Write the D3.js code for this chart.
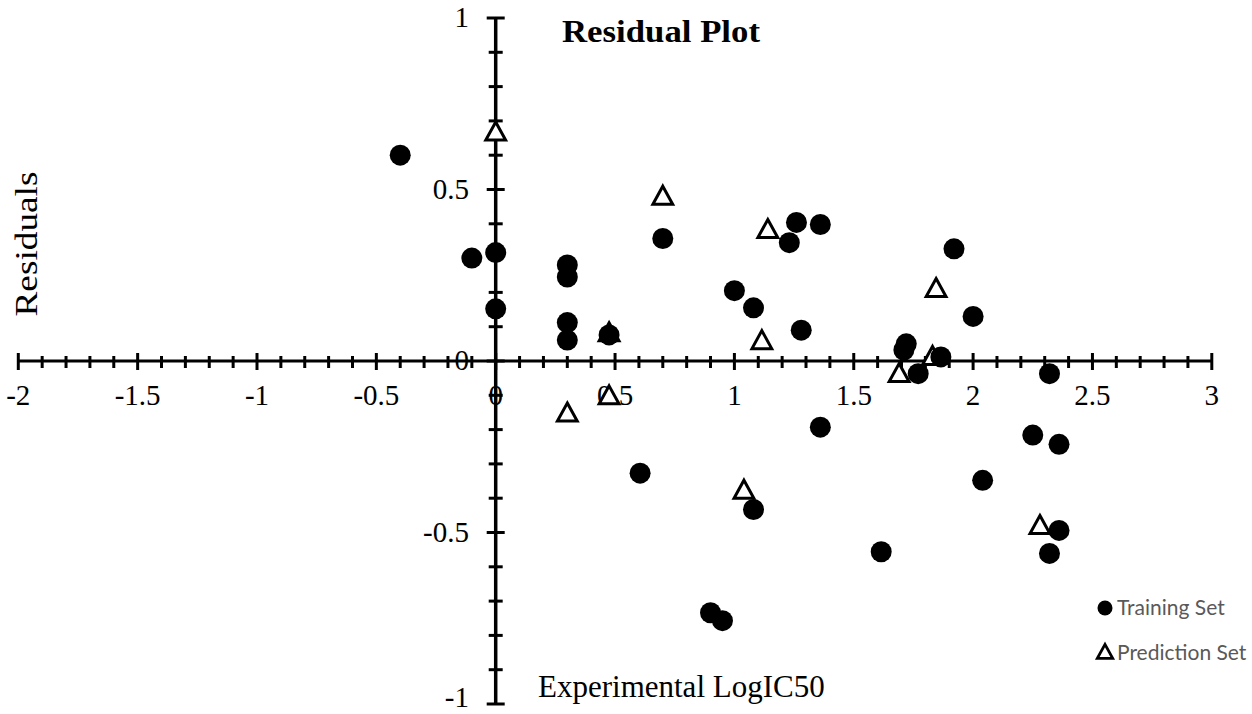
<!DOCTYPE html>
<html>
<head>
<meta charset="utf-8">
<script src="https://cdn.jsdelivr.net/npm/d3@7"></script>
<style>
  html, body { margin: 0; padding: 0; background: #fff; }
  svg { display: block; }
</style>
</head>
<body>
<svg id="chart" width="1252" height="714"></svg>
<script>
// ---- Data ----
const trainingX = [-0.40, -0.10, 0.00, 0.00, 0.30, 0.30, 0.30, 0.30, 0.475, 0.70,
                   1.00, 1.08, 1.23, 1.26, 1.36, 1.28, 1.36, 0.605, 1.08, 0.90,
                   0.95, 1.615, 1.72, 1.71, 1.77, 1.865, 1.92, 2.00, 2.04, 2.32,
                   2.25, 2.36, 2.36, 2.32];
const trainingY = [0.60, 0.30, 0.316, 0.152, 0.28, 0.245, 0.112, 0.061, 0.076, 0.357,
                   0.205, 0.155, 0.345, 0.404, 0.398, 0.090, -0.193, -0.327, -0.433, -0.734,
                   -0.757, -0.556, 0.050, 0.032, -0.037, 0.012, 0.327, 0.130, -0.348, -0.037,
                   -0.216, -0.243, -0.494, -0.561];
const predictionX = [0.00, 0.70, 1.14, 1.115, 0.475, 0.30, 0.475, 1.04, 1.69, 1.845, 1.83, 2.28];
const predictionY = [0.664, 0.477, 0.380, 0.056, 0.079, -0.155, -0.105, -0.380, -0.040, 0.208, 0.010, -0.483];

const xMajorTicks = [-2, -1.5, -1, -0.5, 0, 0.5, 1, 1.5, 2, 2.5, 3];
const xTickLabels = ["-2", "-1.5", "-1", "-0.5", "0", "0.5", "1", "1.5", "2", "2.5", "3"];
const yMajorTicks = [-1, -0.5, 0, 0.5, 1];
const yTickLabels = ["-1", "-0.5", "0", "0.5", "1"];
const legendLabels = ["Training Set", "Prediction Set"];

// ---- Scales ----
const svg = d3.select("#chart");
const x = d3.scaleLinear().domain([-2, 3]).range([18.3, 1211.8]);
const y = d3.scaleLinear().domain([-1, 1]).range([704, 18]);

const x0 = x(0), y0 = y(0);
const serif = "'Liberation Serif', 'Times New Roman', serif";

// ---- X axis (crossing at y=0) ----
const xMinor = d3.range(-20, 31).map(d => d / 10).filter(d => !xMajorTicks.some(m => Math.abs(m - d) < 1e-9));
const gx = svg.append("g");
gx.append("line").attr("x1", x(-2)).attr("x2", x(3)).attr("y1", y0).attr("y2", y0)
  .attr("stroke", "#000").attr("stroke-width", 3);
gx.selectAll("line.maj").data(xMajorTicks).join("line").attr("class", "maj")
  .attr("x1", d => x(d)).attr("x2", d => x(d)).attr("y1", y0 - 8).attr("y2", y0 + 9)
  .attr("stroke", "#000").attr("stroke-width", 3);
gx.selectAll("line.min").data(xMinor).join("line").attr("class", "min")
  .attr("x1", d => x(d)).attr("x2", d => x(d)).attr("y1", y0 - 5).attr("y2", y0 + 7)
  .attr("stroke", "#000").attr("stroke-width", 3);
gx.selectAll("text").data(xMajorTicks).join("text")
  .attr("x", d => x(d)).attr("y", 405)
  .attr("text-anchor", "middle")
  .attr("font-family", serif).attr("font-size", 29)
  .text((d, i) => xTickLabels[i]);

// ---- Y axis (crossing at x=0) ----
const yMinor = d3.range(-10, 11).map(d => d / 10).filter(d => !yMajorTicks.some(m => Math.abs(m - d) < 1e-9));
const gy = svg.append("g");
gy.append("line").attr("x1", x0).attr("x2", x0).attr("y1", y(-1)).attr("y2", y(1))
  .attr("stroke", "#000").attr("stroke-width", 3.5);
gy.selectAll("line.maj").data(yMajorTicks).join("line").attr("class", "maj")
  .attr("x1", x0 - 9).attr("x2", x0 + 9).attr("y1", d => y(d)).attr("y2", d => y(d))
  .attr("stroke", "#000").attr("stroke-width", 3);
gy.selectAll("line.min").data(yMinor).join("line").attr("class", "min")
  .attr("x1", x0 - 7).attr("x2", x0 + 7).attr("y1", d => y(d)).attr("y2", d => y(d))
  .attr("stroke", "#000").attr("stroke-width", 3);
gy.selectAll("text").data(yMajorTicks).join("text")
  .attr("x", 469).attr("y", d => Math.min(y(d) + 9, 707))
  .attr("text-anchor", "end")
  .attr("font-family", serif).attr("font-size", 29)
  .text((d, i) => yTickLabels[i]);

// ---- Points ----
const trainData = trainingX.map((v, i) => ({ x: v, y: trainingY[i] }));
const predData = predictionX.map((v, i) => ({ x: v, y: predictionY[i] }));

const triPath = (s) => `M0,${-s * 0.62} L${s * 0.55},${s * 0.38} L${-s * 0.55},${s * 0.38} Z`;

svg.append("g").selectAll("path").data(predData).join("path")
  .attr("d", triPath(18))
  .attr("transform", d => `translate(${x(d.x)},${y(d.y)})`)
  .attr("fill", "#fff").attr("stroke", "#000").attr("stroke-width", 3)
  .attr("stroke-linejoin", "miter");

svg.append("g").selectAll("circle").data(trainData).join("circle")
  .attr("cx", d => x(d.x)).attr("cy", d => y(d.y)).attr("r", 10.5)
  .attr("fill", "#000");

// ---- Titles ----
svg.append("text").attr("x", 562).attr("y", 42)
  .attr("font-family", serif).attr("font-weight", "bold").attr("font-size", 31)
  .attr("textLength", 198).attr("lengthAdjust", "spacingAndGlyphs")
  .text("Residual Plot");

svg.append("text").attr("x", 538).attr("y", 697)
  .attr("font-family", serif).attr("font-size", 31)
  .text("Experimental LogIC50");

svg.append("text")
  .attr("transform", "translate(37,244) rotate(-90)")
  .attr("text-anchor", "middle")
  .attr("font-family", serif).attr("font-size", 31)
  .attr("textLength", 145).attr("lengthAdjust", "spacingAndGlyphs")
  .text("Residuals");

// ---- Legend ----
const lg = svg.append("g");
lg.append("circle").attr("cx", 1105).attr("cy", 608).attr("r", 7.5).attr("fill", "#000");
lg.append("path").attr("d", triPath(14)).attr("transform", "translate(1105,653)")
  .attr("fill", "#fff").attr("stroke", "#000").attr("stroke-width", 2.8);
lg.selectAll("text").data(legendLabels).join("text")
  .attr("x", 1117).attr("y", (d, i) => 615 + i * 45)
  .attr("font-family", "Lato, 'Noto Sans', sans-serif").attr("font-size", 21)
  .attr("fill", "#595959")
  .text(d => d);
</script>
</body>
</html>
